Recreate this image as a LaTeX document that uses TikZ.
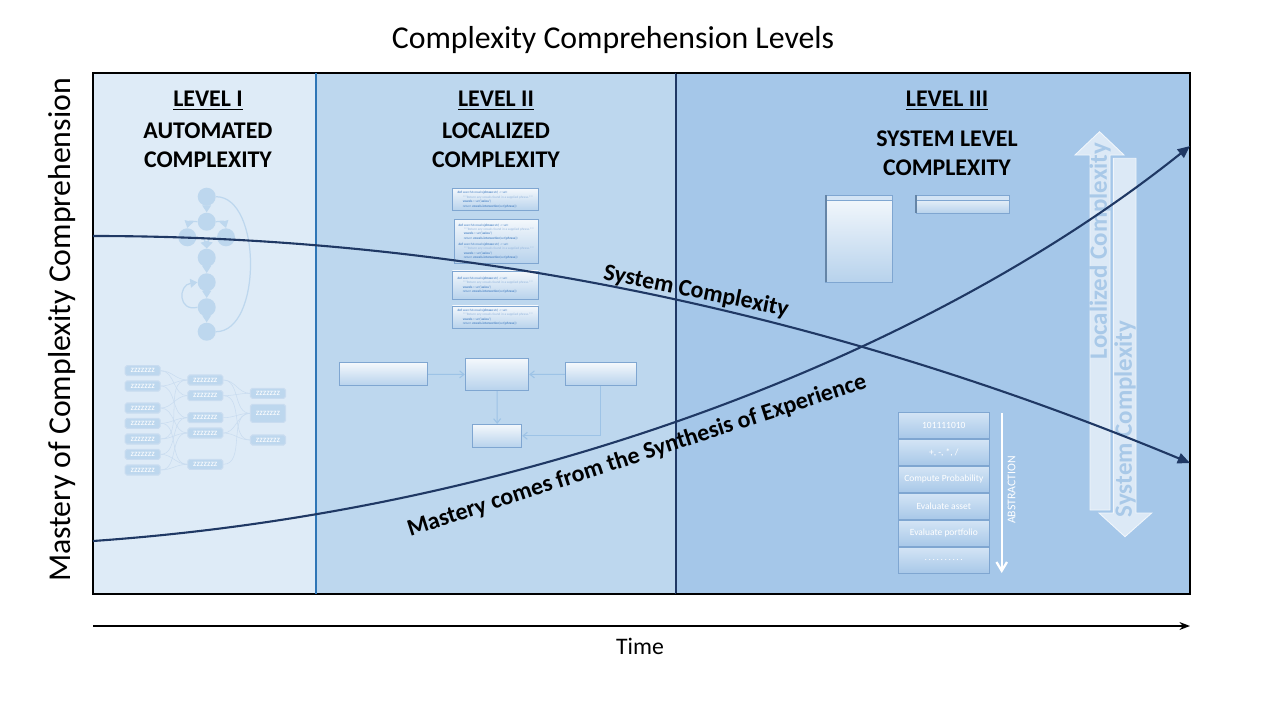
\documentclass[tikz,border=0pt]{standalone}
\usepackage{fontspec}
\setmainfont{Carlito}
\usepackage{xcolor}
\usepackage{tikz}
\usetikzlibrary{arrows.meta, positioning, calc}

\definecolor{lvlone}{HTML}{DEEBF7}
\definecolor{lvltwo}{HTML}{BDD7EE}
\definecolor{lvlthree}{HTML}{A5C7E9}
\definecolor{curvenavy}{HTML}{1F3864}
\definecolor{divblue}{HTML}{2E75B6}
\definecolor{ghost}{HTML}{BDD7EE}
\definecolor{ghostline}{HTML}{C9DCF0}
\definecolor{boxedge}{HTML}{7FA6D1}
\definecolor{boxtop}{HTML}{F4F8FC}
\definecolor{boxbot}{HTML}{B7D2EC}
\definecolor{codeblue}{HTML}{4F86C6}
\definecolor{flowline}{HTML}{9DC3E6}
\definecolor{stacktop}{HTML}{D3E4F5}
\definecolor{stackbot}{HTML}{A8C8E8}
\definecolor{bigarrow}{HTML}{DCE9F6}
\definecolor{bigtext}{HTML}{A9C9E8}

\tikzset{
  headfont/.style={font=\fontsize{13.6}{16.7}\selectfont\bfseries, align=center},
  ghostnode/.style={circle, fill=ghost, minimum size=0.36cm, inner sep=0pt},
  ghostedge/.style={draw=ghost, line width=0.7pt, -{Triangle[length=4pt,width=5pt]}},
  zbox/.style={rectangle, rounded corners=1pt, fill=ghost, draw=ghostline, line width=0.6pt, text=white, font=\fontsize{5}{5}\selectfont, minimum width=0.7cm, minimum height=0.2cm, inner sep=0pt},
  faint/.style={draw=ghostline, line width=0.3pt},
  codebox/.style={rectangle, draw=boxedge, line width=0.5pt, top color=boxtop, bottom color=boxbot, inner sep=1pt, align=left, font=\fontsize{1.9}{2.5}\selectfont, text=codeblue},
  flowbox/.style={rectangle, draw=boxedge, line width=0.5pt, top color=boxtop, bottom color=boxbot, inner sep=0pt},
  flowedge/.style={draw=flowline, line width=0.6pt, -{Straight Barb[length=2.5pt,width=4pt]}},
  stackbox/.style={rectangle, draw=boxedge, line width=0.5pt, top color=stacktop, bottom color=stackbot, minimum width=1.82cm, minimum height=0.51cm, inner sep=0pt, text=white, font=\fontsize{5.4}{6}\selectfont},
  trend/.style={draw=curvenavy, line width=1.2pt, -{Triangle[length=7pt,width=6pt]}},
  trendlabel/.style={font=\fontsize{13.6}{16}\selectfont\bfseries},
  arrowtext/.style={rotate=90, text=bigtext, font=\fontsize{14.2}{15}\selectfont\bfseries},
}

\newcommand{\vowelsnip}{\textbf{def} search4vowels(\textbf{phrase}:str) -> set:\\
\hspace*{3pt}{\color{codeblue!60}"""Return any vowels found in a supplied phrase."""}\\
\hspace*{3pt}\textbf{vowels} = set(\textbf{'aeiou'})\\
\hspace*{3pt}return \textbf{vowels.intersection}(set(\textbf{phrase}))}
\newcommand{\stackdots}{.\,.\,.\,.\,.\,.\,.\,.\,.\,.}

\begin{document}
\begin{tikzpicture}[x=0.02cm, y=-0.02cm]
    % Canvas
    \fill[white] (0,0) rectangle (1280,720);
    \useasboundingbox (0,0) rectangle (1280,720);

    % Level panels
    \fill[lvlone] (93,73) rectangle (316,594);
    \fill[lvltwo] (316,73) rectangle (676,594);
    \fill[lvlthree] (676,73) rectangle (1190,594);
    \draw[black, line width=0.8pt] (676,73) -- (93,73) -- (93,594) -- (676,594);
    \draw[divblue, line width=0.8pt] (316,73) -- (316,594);
    \draw[curvenavy, line width=0.7pt] (676,73) -- (676,594);
    \draw[black, line width=1.4pt] (676,73) -- (1190,73) -- (1190,594) -- (676,594);

    % Headings
    \node[headfont] (lvoneh) at (208,101) {\underline{LEVEL I}};
    \node[headfont] (lvonet) at (208,145.5) {AUTOMATED\\COMPLEXITY};
    \node[headfont] (lvtwoh) at (496,101) {\underline{LEVEL II}};
    \node[headfont] (lvtwot) at (496,145.5) {LOCALIZED\\COMPLEXITY};
    \node[headfont] (lvthreeh) at (947,101) {\underline{LEVEL III}};
    \node[headfont] (lvthreet) at (947,153) {SYSTEM LEVEL\\COMPLEXITY};

    % Level I: small state graph
    \node[ghostnode] (g1) at (206.7,196.7) {};
    \node[ghostnode] (g2) at (206.7,221.7) {};
    \node[ghostnode] (g3) at (187.3,237.3) {};
    \node[ghostnode] (g4) at (226,237.3) {};
    \node[ghostnode] (g5) at (206.7,257.7) {};
    \node[ghostnode] (g6) at (206.7,282.3) {};
    \node[ghostnode] (g7) at (206.7,307.3) {};
    \node[ghostnode] (g8) at (206.7,331.7) {};
    \draw[ghostedge] (g1) -- (g2);
    \draw[ghostedge] (g2.west) .. controls (189,221) .. (g3.north);
    \draw[ghostedge] (g2.east) .. controls (224,221) .. (g4.north);
    \draw[ghostedge] (g3.east) .. controls (204,238) .. (g5.north);
    \draw[ghostedge] (g4.west) .. controls (209,238) .. (g5.north);
    \draw[ghostedge] (g5) -- (g6);
    \draw[ghostedge] (g6) -- (g7);
    \draw[ghostedge] (g7) -- (g8);
    \draw[ghostedge] (g7.west) .. controls (178,312) and (178,285) .. (g6.west);
    \draw[ghost, line width=0.7pt] (g8.east) .. controls (262,331.7) and (262,196.7) .. (g1.east);

    % Level I: layered network
    \node[zbox] (z1) at (142.7,370.7) {zzzzzzz};
    \node[zbox] (z2) at (142.7,386) {zzzzzzz};
    \node[zbox] (z3) at (142.7,408) {zzzzzzz};
    \node[zbox] (z4) at (142.7,423.3) {zzzzzzz};
    \node[zbox] (z5) at (142.7,439) {zzzzzzz};
    \node[zbox] (z6) at (142.7,454.3) {zzzzzzz};
    \node[zbox] (z7) at (142.7,470) {zzzzzzz};
    \node[zbox] (m1) at (205.3,380) {zzzzzzz};
    \node[zbox] (m2) at (205.3,395.7) {zzzzzzz};
    \node[zbox] (m3) at (205.3,417.7) {zzzzzzz};
    \node[zbox] (m4) at (205.3,433) {zzzzzzz};
    \node[zbox] (m5) at (205.3,464.3) {zzzzzzz};
    \node[zbox] (r1) at (268,393.3) {zzzzzzz};
    \node[zbox, minimum height=0.36cm] (r2) at (268,413.3) {zzzzzzz};
    \node[zbox] (r3) at (268,440) {zzzzzzz};
    \foreach \a/\b in {z1/m1, z1/m2, z2/m1, z2/m3, z3/m2, z3/m4, z4/m3, z4/m5, z5/m4, z5/m1,
                       z6/m3, z6/m5, z7/m4, z7/m5, m1/r1, m1/r2, m2/r1, m2/r3, m3/r2, m4/r3, m4/r2, m5/r2}
        \draw[faint] (\a.east) to[out=0, in=180] (\b.west);

    % Level II: code fragments
    \node[codebox, minimum width=1.72cm, minimum height=0.45cm] (code1) at (495.3,199.5) {\vowelsnip};
    \node[codebox, minimum width=1.68cm, minimum height=0.88cm] (code2) at (496.3,241.3) {\vowelsnip\\[1pt]\vowelsnip};
    \node[codebox, minimum width=1.72cm, minimum height=0.57cm] (code3) at (495.3,285.2) {\vowelsnip};
    \node[codebox, minimum width=1.72cm, minimum height=0.45cm] (code4) at (495.3,317.2) {\vowelsnip};

    % Level II: small flow chart
    \node[flowbox, minimum width=1.77cm, minimum height=0.46cm] (flowa) at (383.5,374.2) {};
    \node[flowbox, minimum width=1.27cm, minimum height=0.65cm] (flowb) at (497,374.5) {};
    \node[flowbox, minimum width=1.42cm, minimum height=0.46cm] (flowc) at (600.8,374.2) {};
    \node[flowbox, minimum width=0.98cm, minimum height=0.46cm] (flowd) at (497.2,435.8) {};
    \draw[flowedge] (flowa) -- (flowb);
    \draw[flowedge] (flowc) -- (flowb);
    \draw[flowedge] (flowb) -- (flowd);
    \draw[flowedge] (flowc.south) |- (flowd.east);

    % Level III: window boxes
    \draw[boxedge, line width=0.5pt, top color=boxtop, bottom color=boxbot] (825.7,195.3) rectangle (892.3,282.3);
    \filldraw[fill=stacktop, draw=boxedge, line width=0.5pt] (825.7,195.3) rectangle (892.3,200.5);
    \draw[boxedge!80!black, line width=1pt] (825.7,195.3) -- (825.7,282.3);
    \draw[boxedge, line width=0.5pt, top color=boxtop, bottom color=boxbot] (916.3,195.3) rectangle (1009,213.3);
    \filldraw[fill=stacktop, draw=boxedge, line width=0.5pt] (916.3,195.3) rectangle (1009,200.5);
    \draw[boxedge!80!black, line width=1pt] (916.3,195.3) -- (916.3,213.3);

    % Level III: abstraction stack
    \foreach \lbl [count=\k] in {101111010, {+, -, *, /}, Compute Probability, Evaluate asset, Evaluate portfolio, \stackdots}
        \node[stackbox] (st\k) at (943.8,398.3+27*\k) {\lbl};
    \coordinate (abtop) at (1001.7,413);
    \coordinate (abbot) at (1001.7,573);
    \draw[white, line width=1.3pt, -{Straight Barb[length=5pt,width=6pt]}] (abtop) -- (abbot);
    \node[rotate=90, text=white, font=\fontsize{6.7}{7}\selectfont] (ablabel) at (1011.7,490) {ABSTRACTION};

    % Level III: opposing complexity arrows
    \filldraw[fill=bigarrow, draw=white!60!bigarrow, line width=0.5pt]
        (1090,510) -- (1090,155) -- (1075,155) -- (1099.5,131.7) -- (1124,155) -- (1110,155) -- (1110,510) -- cycle;
    \filldraw[fill=bigarrow, draw=white!60!bigarrow, line width=0.5pt]
        (1113.3,158.3) -- (1136,158.3) -- (1136,513) -- (1151.7,513) -- (1125,536.7) -- (1099,513) -- (1113.3,513) -- cycle;
    \node[arrowtext] (loclabel) at (1100,251) {Localized Complexity};
    \node[arrowtext] (syslabel) at (1125,419) {System Complexity};

    % Trend curves
    \coordinate (sysstart) at (93,236);
    \coordinate (sysend) at (1190,463);
    \draw[trend] (sysstart) .. controls (459,236) and (824,311) .. (sysend);
    \coordinate (mastart) at (93,541);
    \coordinate (maend) at (1190,146);
    \draw[trend] (mastart) .. controls (543,509.5) and (940,346) .. (maend);
    \node[trendlabel, rotate=-11.4] (syscpx) at (696,291.5) {System Complexity};
    \node[trendlabel, rotate=18.1] (mastery) at (637,456) {Mastery comes from the Synthesis of Experience};

    % Axes and title
    \coordinate (tstart) at (93,626);
    \coordinate (tend) at (1190,626);
    \draw[black, line width=0.9pt, -{Stealth[length=6pt,width=4.5pt]}] (tstart) -- (tend);
    \node[font=\fontsize{13.5}{14}\selectfont] (timelbl) at (640,646) {Time};
    \node[font=\fontsize{18.1}{21}\selectfont] (title) at (613,40) {Complexity Comprehension Levels};
    \node[rotate=90, font=\fontsize{18.1}{21}\selectfont] (ylabel) at (62,330) {Mastery of Complexity Comprehension};
\end{tikzpicture}
\end{document}
